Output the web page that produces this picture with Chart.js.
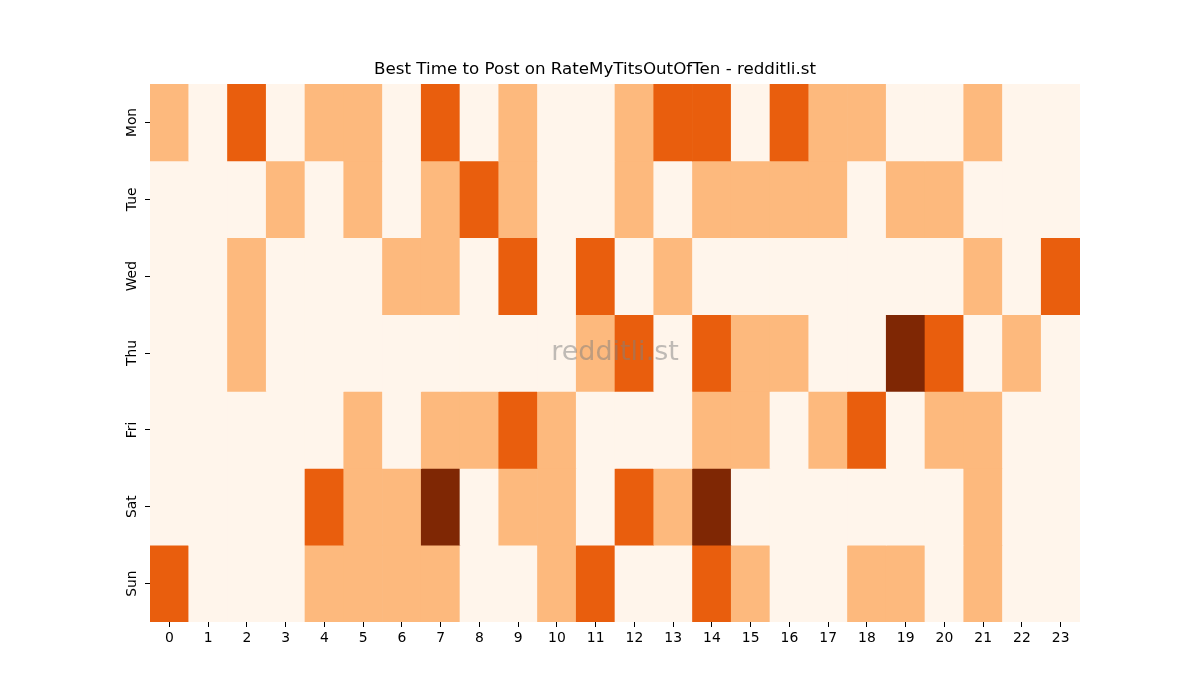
<!DOCTYPE html>
<html>
<head>
<meta charset="utf-8">
<script src="https://cdn.jsdelivr.net/npm/chart.js@4/dist/chart.umd.min.js"></script>
<style>
    html, body { margin: 0; padding: 0; background: #ffffff; }
    #wrap { width: 1200px; height: 700px; }
</style>
</head>
<body>
<div id="wrap"><canvas id="heatmap"></canvas></div>
<script>
// hours on the x axis, days on the y axis
const hours = ['0','1','2','3','4','5','6','7','8','9','10','11','12','13','14','15','16','17','18','19','20','21','22','23'];
const days = ['Mon', 'Tue', 'Wed', 'Thu', 'Fri', 'Sat', 'Sun'];

// activity level per hour (0 = lowest, 3 = highest)
const mon = [1,0,2,0,1,1,0,2,0,1,0,0,1,2,2,0,2,1,1,0,0,1,0,0];
const tue = [0,0,0,1,0,1,0,1,2,1,0,0,1,0,1,1,1,1,0,1,1,0,0,0];
const wed = [0,0,1,0,0,0,1,1,0,2,0,2,0,1,0,0,0,0,0,0,0,1,0,2];
const thu = [0,0,1,0,0,0,0,0,0,0,0,1,2,0,2,1,1,0,0,3,2,0,1,0];
const fri = [0,0,0,0,0,1,0,1,1,2,1,0,0,0,1,1,0,1,2,0,1,1,0,0];
const sat = [0,0,0,0,2,1,1,3,0,1,1,0,2,1,3,0,0,0,0,0,0,1,0,0];
const sun = [2,0,0,0,1,1,1,1,0,0,1,2,0,0,2,1,0,0,1,1,0,1,0,0];

const levelColors = ['#fff5eb', '#fdb97d', '#e95e0d', '#7f2704'];

/**
 * Dibuja la marca de agua en el centro del área de la gráfica
 */
const watermark = {
    id: 'watermark',
    afterDatasetsDraw(chart) {
        const area = chart.chartArea;
        const ctx = chart.ctx;
        ctx.save();
        ctx.font = '27px "DejaVu Sans"';
        ctx.fillStyle = 'rgba(128,128,128,0.5)';
        ctx.textAlign = 'center';
        ctx.textBaseline = 'middle';
        ctx.fillText('redditli.st', (area.left + area.right) / 2, (area.top + area.bottom) / 2);
        ctx.restore();
    }
};

function buildDatasets() {
    const rows = [mon, tue, wed, thu, fri, sat, sun];
    return rows.map((row, i) => ({
        label: days[i],
        data: row.map(() => 1),
        backgroundColor: row.map(v => levelColors[v]),
        borderWidth: 0,
        barPercentage: 1,
        categoryPercentage: 1,
        stack: 'week'
    }));
}

Chart.defaults.font.family = '"DejaVu Sans", sans-serif';
Chart.defaults.color = '#000000';

const ctx = document.getElementById('heatmap').getContext('2d');
const heatmapChart = new Chart(ctx, {
    type: 'bar',
    data: {
        labels: hours,
        datasets: buildDatasets()
    },
    options: {
        responsive: true,
        maintainAspectRatio: false,
        animation: false,
        layout: {
            padding: { left: 110, right: 120, top: 0, bottom: 48 }
        },
        plugins: {
            legend: { display: false },
            tooltip: { enabled: false },
            title: {
                display: true,
                text: 'Best Time to Post on RateMyTitsOutOfTen - redditli.st',
                font: { size: 16.7, weight: 'normal' },
                color: '#000000',
                padding: { top: 60, bottom: 4 }
            }
        },
        scales: {
            x: {
                stacked: true,
                offset: true,
                border: { display: false },
                grid: {
                    offset: false,
                    drawOnChartArea: false,
                    drawTicks: true,
                    tickLength: 5,
                    tickColor: '#000000'
                },
                ticks: {
                    font: { size: 13.9 },
                    color: '#000000',
                    maxRotation: 0,
                    minRotation: 0,
                    padding: 3
                },
                afterFit(scale) {
                    scale.height = 30;
                }
            },
            y: {
                stacked: true,
                min: 0,
                max: 7,
                reverse: true,
                border: { display: false },
                grid: {
                    drawOnChartArea: false,
                    drawTicks: true,
                    tickLength: 5,
                    tickColor: '#000000'
                },
                afterBuildTicks(scale) {
                    scale.ticks = days.map((d, i) => ({ value: i + 0.5 }));
                },
                ticks: {
                    font: { size: 13.9 },
                    color: '#000000',
                    minRotation: 90,
                    maxRotation: 90,
                    crossAlign: 'center',
                    padding: -3,
                    callback: (value, index) => days[index]
                },
                afterFit(scale) {
                    scale.width = 40;
                }
            }
        }
    },
    plugins: [watermark]
});
</script>
</body>
</html>
